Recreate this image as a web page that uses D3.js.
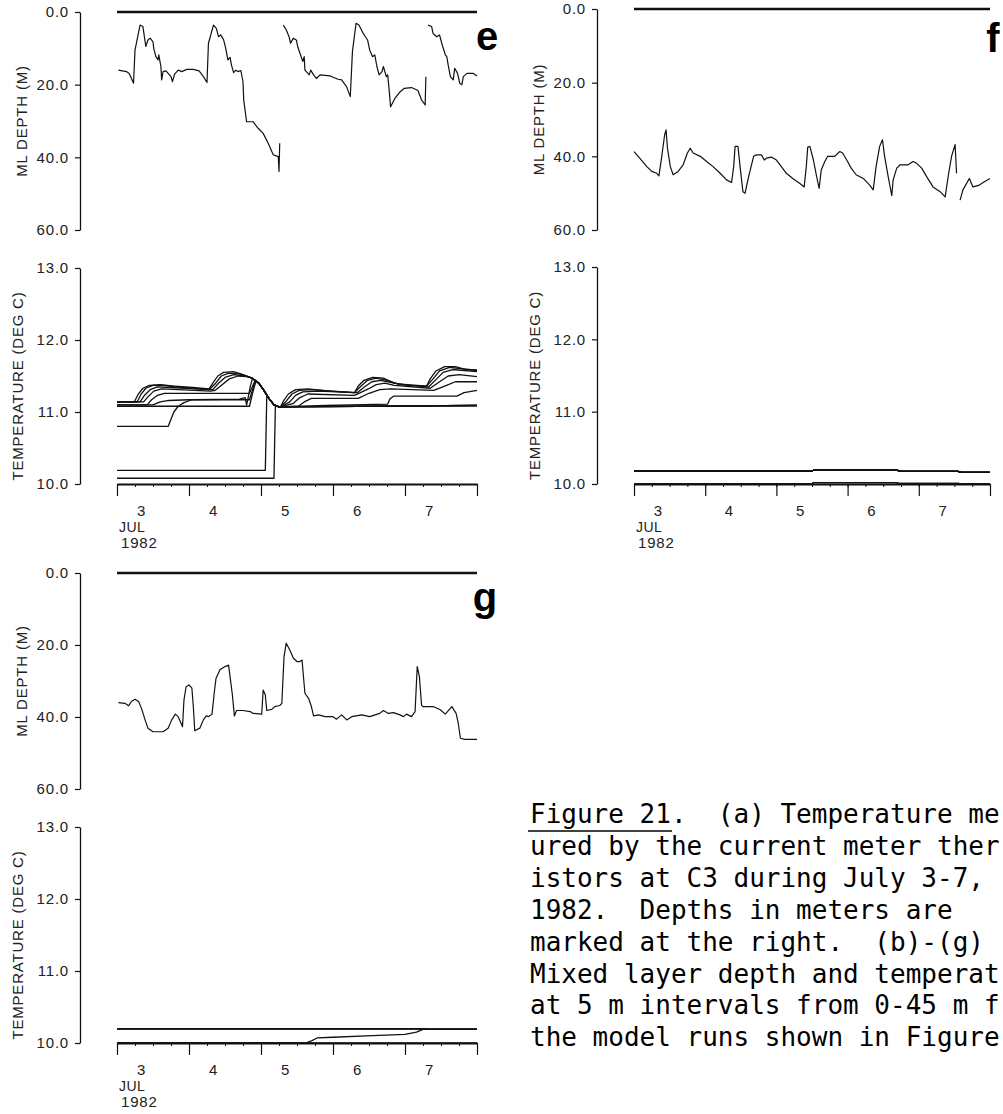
<!DOCTYPE html>
<html>
<head>
<meta charset="utf-8">
<script src="https://cdn.jsdelivr.net/npm/d3@7"></script>
<style>
  body { margin: 0; background: #fff; }
  svg { display: block; }
</style>
</head>
<body>
<div id="chart"></div>
<script>

// ---------------- DATA ----------------
// time axis: days from the first tick (early July 3) to the last tick (5 days)
var dayLabels = ["3", "4", "5", "6", "7"];
var dayLabelPos = [1 / 3, 4 / 3, 7 / 3, 10 / 3, 13 / 3];
var dayTicks = [0, 1, 2, 3, 4, 5];
var depthTicks = [0, 20, 40, 60];
var tempTicks = [10, 11, 12, 13];
var thermDepths = [0, 5, 10, 15, 20, 25, 30, 35, 40, 45];

// surface line drawn across the top of every depth panel
var topDepth = [[0, 0], [5, 0]];

// mixed layer depth (m), panel e  (null = gap in the trace)
var mlDepthE = [
  [0.02, 16.0], [0.13, 16.4], [0.17, 16.9], [0.23, 19.6], [0.25, 10.5], [0.32, 3.6], [0.36, 4.0],
  [0.38, 6.8], [0.40, 9.5], [0.43, 7.7], [0.46, 7.2], [0.50, 8.2], [0.51, 10.0], [0.54, 12.3],
  [0.57, 13.2], [0.58, 11.8], [0.61, 15.0], [0.62, 18.7], [0.64, 16.4], [0.68, 16.2], [0.71, 16.9],
  [0.75, 17.8], [0.77, 19.2], [0.80, 17.1], [0.85, 16.0], [0.90, 16.4], [0.97, 15.8], [1.06, 15.8],
  [1.14, 16.2], [1.20, 17.8], [1.25, 19.4], [1.27, 8.6], [1.34, 3.6], [1.38, 4.5], [1.41, 6.8],
  [1.44, 6.3], [1.48, 7.6], [1.51, 10.0], [1.54, 13.2], [1.57, 12.5], [1.59, 14.6], [1.62, 16.7],
  [1.65, 16.0], [1.68, 16.4], [1.72, 16.1], [1.75, 19.2], [1.76, 24.2], [1.80, 30.2], [1.89, 30.2],
  [1.96, 32.0], [2.03, 33.4], [2.10, 36.1], [2.17, 39.3], [2.24, 39.8], [2.25, 43.9], [2.26, 36.1],
  null,
  [2.31, 3.6], [2.35, 4.9], [2.39, 6.8], [2.41, 8.6], [2.45, 7.2], [2.49, 7.7], [2.51, 9.5],
  [2.54, 11.3], [2.58, 13.6], [2.60, 12.3], [2.61, 16.0], [2.67, 17.3], [2.69, 16.0], [2.73, 17.3],
  [2.77, 18.3], [2.82, 17.3], [2.96, 17.6], [3.07, 18.5], [3.12, 18.7], [3.19, 20.6], [3.24, 23.3],
  [3.27, 10.9], [3.32, 3.1], [3.36, 3.6], [3.42, 5.9], [3.45, 6.8], [3.48, 7.7], [3.51, 10.5],
  [3.55, 12.3], [3.58, 11.8], [3.61, 15.0], [3.64, 17.3], [3.68, 16.4], [3.70, 15.0], [3.74, 17.8],
  [3.76, 17.3], [3.78, 21.5], [3.80, 26.1], [3.86, 23.8], [3.93, 22.0], [3.99, 21.0], [4.09, 20.8],
  [4.18, 21.6], [4.23, 24.2], [4.28, 25.6], [4.29, 17.8],
  null,
  [4.32, 3.6], [4.37, 4.0], [4.39, 5.9], [4.44, 6.8], [4.48, 6.3], [4.51, 8.6], [4.56, 11.8],
  [4.58, 12.3], [4.60, 14.6], [4.63, 17.8], [4.67, 18.7], [4.69, 15.5], [4.73, 16.9], [4.76, 19.6],
  [4.79, 20.0], [4.81, 17.8], [4.86, 16.9], [4.95, 16.9], [5.00, 17.6]
];

// mixed layer depth (m), panel f
var mlDepthF = [
  [0.00, 38.7], [0.08, 40.5], [0.18, 42.8], [0.25, 44.1], [0.32, 44.6], [0.35, 45.3], [0.39, 40.0],
  [0.43, 34.2], [0.45, 32.8], [0.47, 37.8], [0.51, 42.8], [0.55, 45.0], [0.62, 44.1], [0.69, 42.3],
  [0.75, 39.1], [0.79, 37.8], [0.83, 39.1], [0.93, 40.0], [1.02, 41.4], [1.11, 42.8], [1.21, 44.6],
  [1.30, 46.4], [1.37, 47.1], [1.40, 42.8], [1.42, 37.3], [1.46, 37.3], [1.49, 42.8], [1.53, 49.6],
  [1.56, 50.0], [1.61, 45.5], [1.68, 40.0], [1.72, 39.6], [1.79, 39.6], [1.83, 41.0], [1.86, 40.5],
  [1.93, 40.2], [2.00, 41.0], [2.07, 42.8], [2.14, 44.6], [2.23, 46.0], [2.33, 47.4], [2.39, 48.3],
  [2.42, 42.8], [2.44, 37.5], [2.47, 37.3], [2.52, 41.0], [2.56, 45.0], [2.60, 48.7], [2.63, 43.7],
  [2.68, 41.4], [2.72, 40.0], [2.82, 40.0], [2.89, 38.7], [2.93, 39.1], [3.00, 41.4], [3.05, 43.2],
  [3.12, 45.0], [3.22, 46.0], [3.31, 47.8], [3.36, 49.1], [3.40, 42.8], [3.45, 37.3], [3.49, 35.5],
  [3.52, 40.0], [3.57, 45.5], [3.62, 50.7], [3.64, 46.4], [3.69, 43.2], [3.74, 42.3], [3.85, 42.3],
  [3.92, 41.4], [3.97, 41.9], [4.04, 43.2], [4.11, 45.5], [4.20, 48.3], [4.30, 49.6], [4.37, 51.0],
  [4.42, 44.6], [4.46, 40.0], [4.51, 36.8], [4.53, 44.6],
  null,
  [4.58, 51.9], [4.62, 49.1], [4.71, 46.0], [4.76, 48.3], [4.85, 47.8], [4.92, 46.9], [5.00, 46.0]
];

// mixed layer depth (m), panel g
var mlDepthG = [
  [0.02, 36.0], [0.11, 36.2], [0.16, 36.9], [0.20, 35.7], [0.25, 35.1], [0.30, 35.7], [0.34, 37.6],
  [0.39, 40.8], [0.43, 43.1], [0.50, 44.1], [0.64, 44.1], [0.71, 43.1], [0.76, 40.8], [0.81, 39.2],
  [0.85, 39.9], [0.90, 42.2], [0.91, 42.7], [0.93, 35.3], [0.96, 31.6], [1.00, 31.1], [1.04, 32.0],
  [1.06, 37.1], [1.08, 43.8], [1.15, 43.1], [1.20, 40.8], [1.24, 39.7], [1.27, 39.9], [1.32, 39.2],
  [1.35, 33.4], [1.375, 29.3], [1.43, 26.9], [1.50, 26.0], [1.55, 25.6], [1.57, 28.8], [1.60, 33.4],
  [1.63, 39.7], [1.66, 38.2], [1.75, 38.2], [1.85, 38.5], [1.89, 39.0], [2.01, 39.2], [2.03, 32.5],
  [2.06, 33.9], [2.08, 38.2], [2.15, 37.9], [2.19, 37.1], [2.26, 36.8], [2.29, 36.2], [2.30, 31.6],
  [2.32, 23.3], [2.35, 19.5], [2.40, 21.4], [2.45, 23.7], [2.50, 24.6], [2.54, 24.6], [2.57, 24.2],
  [2.59, 28.8], [2.61, 33.4], [2.66, 34.8], [2.70, 37.1], [2.73, 39.7], [2.80, 39.4], [2.89, 39.9],
  [3.00, 39.9], [3.05, 40.6], [3.12, 39.4], [3.19, 40.8], [3.26, 39.9], [3.40, 39.4], [3.51, 39.9],
  [3.65, 39.0], [3.70, 38.2], [3.77, 39.0], [3.84, 38.8], [3.93, 39.4], [3.98, 39.9], [4.02, 39.2],
  [4.09, 39.9], [4.14, 38.5], [4.17, 26.0], [4.20, 28.8], [4.23, 36.7], [4.25, 37.1], [4.39, 37.1],
  [4.49, 38.0], [4.56, 39.2], [4.65, 37.1], [4.71, 39.0], [4.74, 41.8], [4.77, 45.9], [4.83, 46.2],
  [5.00, 46.2]
];

// temperature (deg C) at 0,5,...,45 m, panel e
var tempE = [
  [[0, 11.14], [0.24, 11.14], [0.29, 11.24], [0.36, 11.33], [0.45, 11.37], [0.6, 11.38], [0.8, 11.36],
   [1.05, 11.34], [1.28, 11.32], [1.33, 11.40], [1.40, 11.50], [1.48, 11.55], [1.62, 11.56], [1.75, 11.52],
   [1.88, 11.47], [1.97, 11.40], [2.04, 11.30], [2.11, 11.19], [2.18, 11.10], [2.25, 11.07], [2.27, 11.07],
   [2.31, 11.15], [2.38, 11.25], [2.48, 11.31], [2.65, 11.32], [2.95, 11.29], [3.3, 11.27], [3.35, 11.36],
   [3.43, 11.44], [3.55, 11.48], [3.7, 11.47], [3.85, 11.40], [4.05, 11.37], [4.3, 11.36], [4.35, 11.46],
   [4.43, 11.57], [4.55, 11.63], [4.7, 11.63], [4.85, 11.59], [5.0, 11.58]],
  [[0, 11.14], [0.28, 11.14], [0.33, 11.24], [0.40, 11.33], [0.5, 11.37], [0.65, 11.37], [0.8, 11.35],
   [1.28, 11.31], [1.37, 11.40], [1.45, 11.50], [1.55, 11.54], [1.7, 11.53], [1.88, 11.47], [1.97, 11.40],
   [2.04, 11.30], [2.11, 11.19], [2.18, 11.10], [2.25, 11.07], [2.27, 11.07], [2.35, 11.15], [2.43, 11.25],
   [2.53, 11.30], [2.7, 11.31], [3.3, 11.27], [3.39, 11.36], [3.48, 11.44], [3.6, 11.47], [3.75, 11.44],
   [3.9, 11.39], [4.3, 11.36], [4.39, 11.46], [4.48, 11.57], [4.62, 11.62], [4.8, 11.60], [5.0, 11.58]],
  [[0, 11.14], [0.32, 11.14], [0.38, 11.23], [0.46, 11.31], [0.56, 11.35], [0.75, 11.34], [1.28, 11.31],
   [1.33, 11.31], [1.41, 11.40], [1.5, 11.48], [1.62, 11.52], [1.78, 11.50], [1.88, 11.47], [1.97, 11.40],
   [2.04, 11.30], [2.11, 11.19], [2.18, 11.10], [2.25, 11.07], [2.27, 11.07], [2.4, 11.14], [2.48, 11.23],
   [2.58, 11.28], [2.8, 11.29], [3.3, 11.27], [3.34, 11.27], [3.44, 11.35], [3.54, 11.42], [3.66, 11.44],
   [3.8, 11.41], [3.95, 11.38], [4.33, 11.35], [4.43, 11.45], [4.53, 11.55], [4.66, 11.59], [5.0, 11.56]],
  [[0, 11.14], [0.37, 11.14], [0.43, 11.21], [0.51, 11.29], [0.62, 11.32], [0.85, 11.31], [1.3, 11.29],
   [1.36, 11.30], [1.46, 11.38], [1.56, 11.46], [1.68, 11.50], [1.8, 11.49], [1.88, 11.47], [1.97, 11.40],
   [2.04, 11.30], [2.11, 11.19], [2.18, 11.10], [2.25, 11.07], [2.27, 11.07], [2.45, 11.12], [2.54, 11.20],
   [2.65, 11.25], [3.3, 11.23], [3.49, 11.32], [3.6, 11.38], [3.72, 11.40], [3.85, 11.37], [4.35, 11.33],
   [4.48, 11.42], [4.6, 11.50], [4.75, 11.52], [5.0, 11.49]],
  [[0, 11.10], [0.42, 11.10], [0.48, 11.17], [0.56, 11.23], [0.66, 11.26], [1.0, 11.26], [1.84, 11.26],
   [1.88, 11.35], [1.92, 11.44], [1.97, 11.40], [2.04, 11.30], [2.11, 11.19], [2.18, 11.10], [2.25, 11.07],
   [2.52, 11.08], [2.6, 11.14], [2.7, 11.19], [3.35, 11.19], [3.5, 11.26], [3.65, 11.31], [3.8, 11.32],
   [4.4, 11.30], [4.55, 11.36], [4.7, 11.42], [5.0, 11.42]],
  [[0, 11.10], [0.5, 11.10], [0.6, 11.14], [0.72, 11.16], [1.0, 11.17], [1.84, 11.17], [1.88, 11.30],
   [1.92, 11.44], [1.97, 11.40], [2.04, 11.30], [2.11, 11.19], [2.18, 11.10], [2.25, 11.07], [2.9, 11.09],
   [3.76, 11.11], [3.79, 11.18], [3.84, 11.22], [4.72, 11.22], [4.82, 11.27], [5.0, 11.30]],
  [[0, 11.08], [1.84, 11.08], [1.88, 11.25], [1.93, 11.43], [1.97, 11.40], [2.04, 11.30], [2.11, 11.19],
   [2.18, 11.10], [2.25, 11.07], [5.0, 11.09]],
  [[0, 10.80], [0.71, 10.80], [0.75, 10.90], [0.79, 11.00], [0.85, 11.08], [0.93, 11.13], [1.04, 11.17],
   [1.7, 11.18], [1.78, 11.20], [1.80, 11.10], [1.82, 11.19], [1.85, 11.35], [1.88, 11.46], [1.97, 11.40],
   [2.04, 11.30], [2.11, 11.19], [2.18, 11.10], [2.25, 11.07], [5.0, 11.09]],
  [[0, 10.19], [2.06, 10.19], [2.07, 10.70], [2.08, 11.22], [2.11, 11.19], [2.18, 11.10], [2.25, 11.07],
   [5.0, 11.09]],
  [[0, 10.08], [2.18, 10.08], [2.19, 10.60], [2.20, 11.09], [2.25, 11.07], [5.0, 11.09]]
];

// temperature panel f: 0-35 m sit together near 10.18, 40-45 m on 10.0
var tempFUpper = [[0, 10.18], [2.5, 10.18], [2.52, 10.19], [3.7, 10.19], [3.75, 10.175], [4.55, 10.175], [4.6, 10.16], [5, 10.16]];
var tempFLower = [[0, 10.0], [2.5, 10.0], [2.52, 10.02], [3.68, 10.02], [3.72, 10.01], [4.55, 10.01], [4.6, 10.0], [5, 10.0]];
var tempF = [tempFUpper, tempFUpper, tempFUpper, tempFUpper, tempFUpper, tempFUpper, tempFUpper, tempFUpper, tempFLower, tempFLower];

// temperature panel g
var tempGUpper = [[0, 10.2], [4.2, 10.2], [4.3, 10.19], [5, 10.19]];
var tempG40 = [[0, 10.0], [2.62, 10.0], [2.70, 10.03], [2.78, 10.07], [3.0, 10.08], [3.46, 10.10], [4.0, 10.12], [4.16, 10.15], [4.25, 10.19], [5, 10.19]];
var tempG45 = [[0, 10.0], [5, 10.0]];
var tempG = [tempGUpper, tempGUpper, tempGUpper, tempGUpper, tempGUpper, tempGUpper, tempGUpper, tempGUpper, tempG40, tempG45];

// caption as it shows in the (right-cropped) figure
var captionLines = [
  "Figure 21.  (a) Temperature me",
  "ured by the current meter ther",
  "istors at C3 during July 3-7,",
  "1982.  Depths in meters are",
  "marked at the right.  (b)-(g)",
  "Mixed layer depth and temperat",
  "at 5 m intervals from 0-45 m f",
  "the model runs shown in Figure"
];

// ---------------- LAYOUT ----------------
var attrs = {
  svgWidth: 1003,
  svgHeight: 1114,
  font: "'Liberation Sans', Arial, sans-serif",
  monoFont: "'DejaVu Sans Mono', 'Liberation Mono', monospace",
  ink: '#111',
  textFill: '#222'
};

var panels = [
  { letter: 'e', left: 117, right: 477, axisX: 80, depthTop: 12, depthBottom: 230, tempTop: 268, tempBottom: 484,
    letterX: 487, letterY: 50, ml: mlDepthE, temps: tempE },
  { letter: 'f', left: 634, right: 990, axisX: 597, depthTop: 9, depthBottom: 230, tempTop: 267, tempBottom: 484,
    letterX: 993, letterY: 52, ml: mlDepthF, temps: tempF },
  { letter: 'g', left: 117, right: 477, axisX: 80, depthTop: 573, depthBottom: 789, tempTop: 827, tempBottom: 1043,
    letterX: 485, letterY: 611, ml: mlDepthG, temps: tempG }
];

//Add svg
var svg = d3.select('#chart').append('svg')
  .attr('width', attrs.svgWidth)
  .attr('height', attrs.svgHeight)
  .attr('font-family', attrs.font);

svg.append('rect').attr('width', attrs.svgWidth).attr('height', attrs.svgHeight).attr('fill', '#fff');

function styleAxis(g, width) {
  g.select('.domain').attr('stroke', attrs.ink).attr('stroke-width', width);
  g.selectAll('.tick line').attr('stroke', attrs.ink).attr('stroke-width', 1.2);
  g.selectAll('.tick text')
    .attr('fill', attrs.textFill)
    .attr('font-size', 15)
    .attr('font-family', attrs.font)
    .attr('letter-spacing', 0.8);
}

panels.forEach(function (p) {
  var x = d3.scaleLinear().domain([0, 5]).range([p.left, p.right]);
  var yDepth = d3.scaleLinear().domain([0, 60]).range([p.depthTop, p.depthBottom]);
  var yTemp = d3.scaleLinear().domain([10, 13]).range([p.tempBottom, p.tempTop]);

  var chart = svg.append('g').attr('class', 'panel-' + p.letter);

  // ---- depth panel ----
  var depthAxis = chart.append('g')
    .attr('transform', 'translate(' + p.axisX + ',0)')
    .call(d3.axisLeft(yDepth).tickValues(depthTicks).tickSize(5).tickSizeOuter(0).tickPadding(6)
      .tickFormat(d3.format('.1f')));
  styleAxis(depthAxis, 1.3);

  chart.append('text')
    .attr('transform', 'translate(' + (p.axisX - 57) + ',' + ((p.depthTop + p.depthBottom) / 2) + ') rotate(-90)')
    .attr('text-anchor', 'middle')
    .attr('dominant-baseline', 'middle')
    .attr('font-size', 15)
    .attr('letter-spacing', 0.8)
    .attr('fill', attrs.textFill)
    .text('ML DEPTH (M)');

  var depthLine = d3.line()
    .defined(function (d) { return d !== null; })
    .x(function (d) { return x(d[0]); })
    .y(function (d) { return yDepth(d[1]); });

  chart.append('path')
    .datum(topDepth)
    .attr('d', depthLine)
    .attr('fill', 'none')
    .attr('stroke', attrs.ink)
    .attr('stroke-width', 2.4);

  chart.append('path')
    .datum(p.ml)
    .attr('d', depthLine)
    .attr('fill', 'none')
    .attr('stroke', attrs.ink)
    .attr('stroke-width', 1.2)
    .attr('stroke-linejoin', 'round');

  chart.append('text')
    .attr('x', p.letterX)
    .attr('y', p.letterY)
    .attr('text-anchor', 'middle')
    .attr('font-size', 40)
    .attr('font-weight', 'bold')
    .attr('fill', '#000')
    .text(p.letter);

  // ---- temperature panel ----
  var tempAxis = chart.append('g')
    .attr('transform', 'translate(' + p.axisX + ',0)')
    .call(d3.axisLeft(yTemp).tickValues(tempTicks).tickSize(5).tickSizeOuter(0).tickPadding(6)
      .tickFormat(d3.format('.1f')));
  styleAxis(tempAxis, 1.3);

  chart.append('text')
    .attr('transform', 'translate(' + (p.axisX - 61) + ',' + ((p.tempTop + p.tempBottom) / 2 + 10) + ') rotate(-90)')
    .attr('text-anchor', 'middle')
    .attr('dominant-baseline', 'middle')
    .attr('font-size', 15)
    .attr('letter-spacing', 0.8)
    .attr('fill', attrs.textFill)
    .text('TEMPERATURE (DEG C)');

  // time axis: day ticks, quarter-day minor ticks, day labels
  var xMajor = chart.append('g')
    .attr('transform', 'translate(0,' + p.tempBottom + ')')
    .call(d3.axisBottom(x).tickValues(dayTicks).tickSize(12).tickSizeOuter(0).tickFormat(''));
  styleAxis(xMajor, 2.2);

  var xMinor = chart.append('g')
    .attr('transform', 'translate(0,' + p.tempBottom + ')')
    .call(d3.axisBottom(x).tickValues(d3.range(0, 5.01, 0.25)).tickSize(3).tickSizeOuter(0).tickFormat(''));
  xMinor.select('.domain').remove();
  xMinor.selectAll('.tick line').attr('stroke', attrs.ink).attr('stroke-width', 1);

  var xLabels = chart.append('g')
    .attr('transform', 'translate(0,' + p.tempBottom + ')')
    .call(d3.axisBottom(x).tickValues(dayLabelPos).tickSize(0).tickPadding(21)
      .tickFormat(function (d, i) { return dayLabels[i]; }));
  xLabels.select('.domain').remove();
  styleAxis(xLabels, 0);

  chart.append('text')
    .attr('x', p.left + 2)
    .attr('y', p.tempBottom + 48)
    .attr('font-size', 14)
    .attr('letter-spacing', 0.5)
    .attr('fill', attrs.textFill)
    .text('JUL');

  chart.append('text')
    .attr('x', p.left + 4)
    .attr('y', p.tempBottom + 64)
    .attr('font-size', 15)
    .attr('letter-spacing', 0.8)
    .attr('fill', attrs.textFill)
    .text('1982');

  var tempLine = d3.line()
    .x(function (d) { return x(d[0]); })
    .y(function (d) { return yTemp(d[1]); });

  chart.append('g').selectAll('path')
    .data(p.temps)
    .enter().append('path')
    .attr('d', tempLine)
    .attr('fill', 'none')
    .attr('stroke', attrs.ink)
    .attr('stroke-width', 1.3)
    .attr('stroke-linejoin', 'round');
});

// ---- caption ----
var caption = svg.append('g')
  .attr('font-family', attrs.monoFont)
  .attr('font-size', 26)
  .attr('fill', '#000');

caption.selectAll('text')
  .data(captionLines)
  .enter().append('text')
  .attr('x', 530)
  .attr('y', function (d, i) { return 823 + i * 31.9; })
  .style('white-space', 'pre')
  .text(function (d) { return d; });

caption.append('line')
  .attr('x1', 528).attr('x2', 672)
  .attr('y1', 831).attr('y2', 831)
  .attr('stroke', '#000')
  .attr('stroke-width', 1.6);

</script>
</body>
</html>
